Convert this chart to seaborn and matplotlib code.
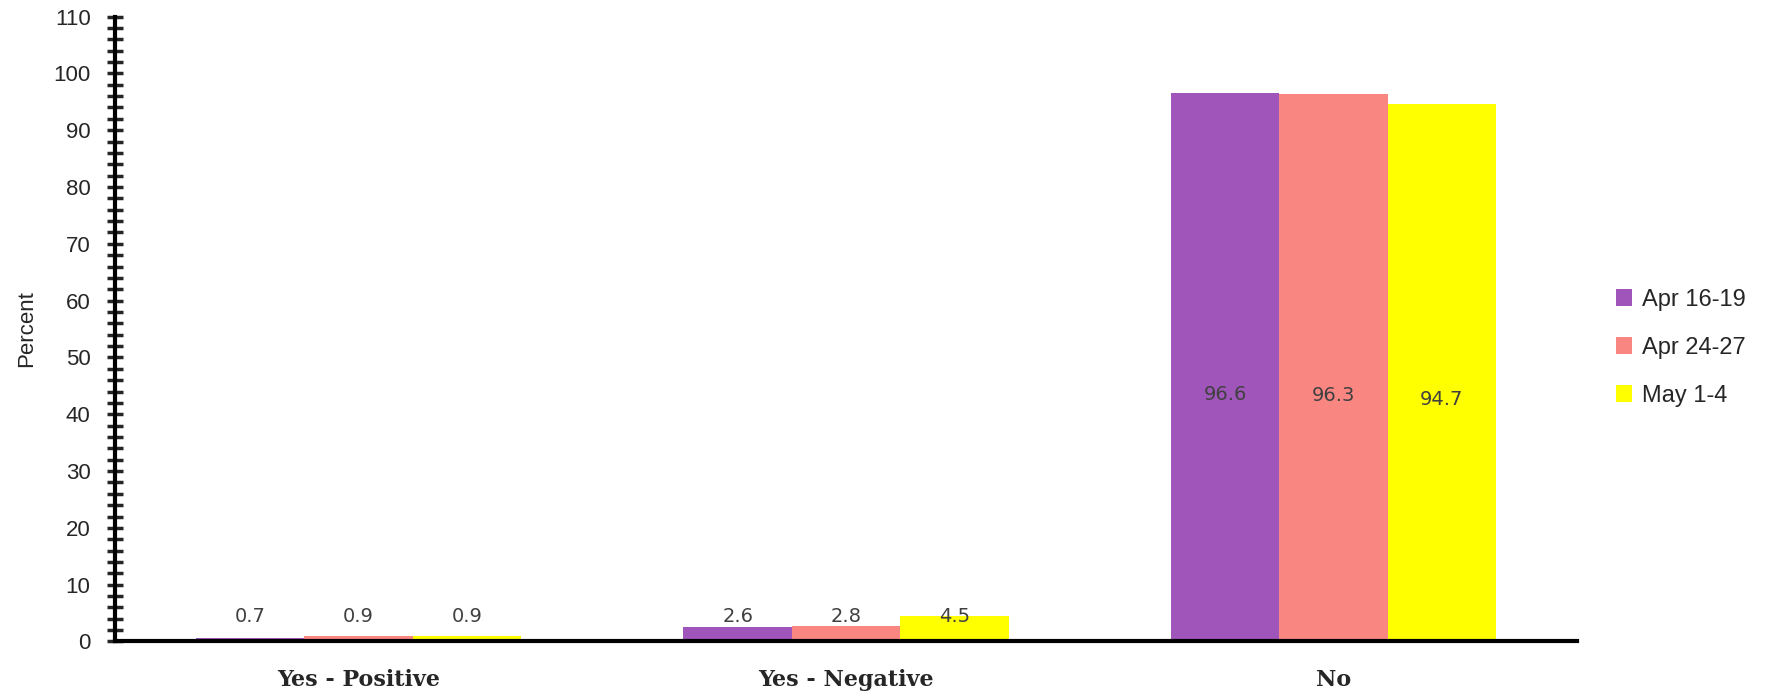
import matplotlib
matplotlib.use("Agg")
import matplotlib.pyplot as plt
from matplotlib.ticker import MultipleLocator
import seaborn as sns
import pandas as pd


# ---------- DATA ----------

categories = ["Yes - Positive", "Yes - Negative", "No"]
periods = ["Apr 16-19", "Apr 24-27", "May 1-4"]
apr_16_19 = [0.7, 2.6, 96.6]
apr_24_27 = [0.9, 2.8, 96.3]
may_1_4 = [0.9, 4.5, 94.7]

colors = ["#A055BB", "#FA8682", "#FFFF00"]

rows = []
for period, vals in zip(periods, [apr_16_19, apr_24_27, may_1_4]):
    for cat, v in zip(categories, vals):
        rows.append({"category": cat, "period": period, "value": v})
df = pd.DataFrame(rows)


# ---------- PLOT ----------

sns.set_style("white")
plt.rcParams["font.family"] = ["Liberation Sans", "DejaVu Sans"]

fig = plt.figure(figsize=(17.68, 6.92), dpi=100)
ax = fig.add_axes([0.065, 0.073, 0.827, 0.903])

sns.barplot(
    data=df, x="category", y="value", hue="period",
    order=categories, hue_order=periods, palette=colors,
    width=0.667, gap=0, saturation=1, linewidth=0, ax=ax, legend=True,
)

ax.set_xlim(-0.5, 2.5)
ax.set_ylim(0, 110)
ax.yaxis.set_major_locator(MultipleLocator(10))
ax.yaxis.set_minor_locator(MultipleLocator(2))
ax.tick_params(axis="y", which="both", direction="inout", length=11, width=2.5,
               left=True, labelsize=16, pad=12)
ax.tick_params(axis="x", length=0, pad=20)
for lbl in ax.get_xticklabels():
    lbl.set_fontfamily("DejaVu Serif")
    lbl.set_fontsize(16)
    lbl.set_fontweight("bold")

for side in ["top", "right"]:
    ax.spines[side].set_visible(False)
for side in ["left", "bottom"]:
    ax.spines[side].set_linewidth(3)
    ax.spines[side].set_color("black")

ax.set_xlabel("")
ax.set_ylabel("Percent", fontsize=16, labelpad=12)

# ---------- DATA LABELS ----------
label_y = 4.4
for container in ax.containers:
    for bar in container:
        h = bar.get_height()
        xc = bar.get_x() + bar.get_width() / 2
        y = h * 0.45 if h > 50 else label_y
        ax.text(xc, y, f"{h:.1f}", ha="center", va="center",
                fontsize=14, color="#404040", family="DejaVu Sans")

leg = ax.legend(
    loc="center left", bbox_to_anchor=(1.012, 0.47), frameon=False,
    fontsize=17, handlelength=0.7, handleheight=0.7, labelspacing=1.1,
    handletextpad=0.4,
)

fig.savefig("out.png", dpi=100)
